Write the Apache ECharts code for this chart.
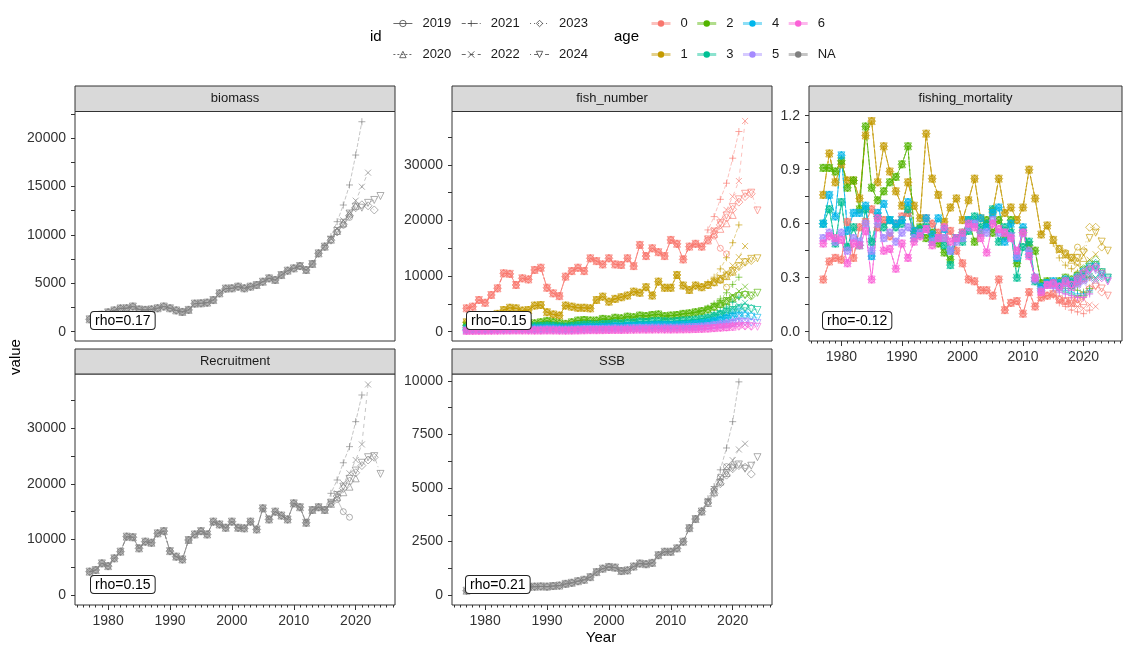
<!DOCTYPE html>
<html><head><meta charset="utf-8">
<script src="https://cdn.jsdelivr.net/npm/echarts@6/dist/echarts.min.js"></script>
<style>html,body{margin:0;padding:0;background:#fff}#c{width:1123px;height:650px}</style>
</head><body><div id="c"></div><script>
// ---------------- DATA ----------------
const firstYear = 1977;           // base arrays cover 1977-2014, tails start 2015
const ids = [2019, 2020, 2021, 2022, 2023, 2024];
const ageNames = ['0', '1', '2', '3', '4', '5', '6'];
const decadeTicks = [1980, 1990, 2000, 2010, 2020];
const yearTicks = [1975,1976,1977,1978,1979,1980,1981,1982,1983,1984,1985,1986,1987,1988,1989,1990,1991,1992,1993,1994,1995,1996,1997,1998,1999,2000,2001,2002,2003,2004,2005,2006,2007,2008,2009,2010,2011,2012,2013,2014,2015,2016,2017,2018,2019,2020,2021,2022,2023,2024,2025,2026];

const biomassLabels = [0, 5000, 10000, 15000, 20000];
const biomassTicks = [0, 2500, 5000, 7500, 10000, 12500, 15000, 17500, 20000, 22500];
const fishLabels = [0, 10000, 20000, 30000];
const fishTicks = [0, 5000, 10000, 15000, 20000, 25000, 30000, 35000];
const fLabels = [0, 0.3, 0.6, 0.9, 1.2];
const fTicks = [0, 0.15, 0.3, 0.45, 0.6, 0.75, 0.9, 1.05, 1.2];
const recLabels = [0, 10000, 20000, 30000];
const recTicks = [0, 5000, 10000, 15000, 20000, 25000, 30000, 35000];
const ssbLabels = [0, 2500, 5000, 7500, 10000];
const ssbTicks = [0, 1250, 2500, 3750, 5000, 6250, 7500, 8750, 10000];

const rhoTexts = ['rho=0.17', 'rho=0.15', 'rho=-0.12', 'rho=0.15', 'rho=0.21'];

// biomass
const biomassBase = [1280,1500,1750,2000,2200,2400,2420,2600,2300,2250, 2300,2420,2600,2420,2200,2040,2250,2900,2930,3000, 3270,3960,4450,4480,4650,4480,4650,4820,5160,5510, 5340,5850,6300,6540,6780,6370,6990,8090];
const biomassTail = [
  [8780,9470,10300,11000,11800],
  [8780,9500,10400,11200,12200,13000],
  [8900,9810,11360,13080,15150,18240,21680],
  [8800,9600,10600,11500,12220,13530,14970,16420],
  [8750,9450,10300,11100,12000,12800,13100,13000,12570],
  [8780,9500,10400,11250,12200,12900,12800,13300,13600,14010]
];
// recruitment (= fish number at age 0)
const recBase = [4200,4500,5700,5200,6600,7800,10500,10400,8400,9600, 9400,11100,11500,7900,6900,6400,9900,10900,11500,10900, 13200,12700,12100,13200,12100,12000,13200,11800,15600,13600, 15000,14300,13600,16500,15800,13000,15300,15800];
const recTail = [
  [15300,16400,17200,15000,14000],
  [15300,16400,17600,18500,19500,21000],
  [15300,18300,20700,23800,26700,31200,36000],
  [15300,16600,18300,20100,21900,24300,27100,37900],
  [15300,16500,17800,19200,20500,22000,23300,24300,24800],
  [15300,16600,18000,19500,20900,22400,23800,24800,25000,21800]
];
// SSB
const ssbBase = [200,250,280,300,320,330,350,360,370,380, 380,390,400,390,420,440,520,570,645,710, 835,1070,1230,1310,1280,1120,1150,1330,1470,1440, 1500,1860,2020,2020,2180,2490,3125,3550];
const ssbTail = [
  [3900,4350,4900,5500,6000],
  [3900,4300,4800,5300,5700,6100],
  [3950,4500,5070,5850,6870,8100,9960],
  [3900,4400,4950,5500,6000,6300,6800,7070],
  [3900,4300,4750,5200,5600,5900,6050,5970,5650],
  [3900,4300,4800,5250,5700,5950,6100,5900,6040,6440]
];
// fish numbers by age (age 0 = recruitment)
const fn1Base = [1700,2100,2600,2900,2700,3200,3900,4300,4200,3800, 3900,4700,4800,3500,3100,2900,4700,4500,4300,4300, 4200,5700,6300,5400,5900,6200,6500,7200,7000,8000, 6500,9000,7900,7900,10200,8300,7500,8300];
const fn1Tail = [
  [8000,8400,8800,9200,8000],
  [8000,8400,8900,9500,10000,10800],
  [8100,8800,9800,11300,13300,16000,19200],
  [8000,8500,9100,9800,10700,11900,13400,15400],
  [8000,8400,8900,9400,10000,10800,11700,12500,12800],
  [8000,8400,8900,9500,10100,10900,11800,12500,13100,13200]
];
const fn2Base = [1100,1200,1300,1300,1400,1500,1600,1700,1800,1700, 1600,1500,1700,1900,1700,1500,1400,1700,2000,2100, 2000,2000,2300,2200,2500,2400,2700,2600,2900,2800, 3000,3100,2800,2900,3000,3200,3300,3500];
const fn2Tail = [
  [3700,4000,4400,4800,4600],
  [3700,4000,4500,5000,5500,6000],
  [3800,4300,5000,5900,7000,8500,9800],
  [3700,4100,4600,5200,5800,6500,7300,8100],
  [3700,4000,4500,5000,5500,6000,6500,6700,6400],
  [3700,4000,4500,5000,5500,6000,6400,6600,6500,7000]
];
const fn3Base = [700,750,800,850,900,950,1000,1050,1100,1050, 1000,950,1000,1100,1050,950,900,1000,1150,1250, 1300,1250,1350,1400,1500,1450,1600,1650,1800,1750, 1850,1900,1850,1800,1900,2000,2050,2150];
const fn3Tail = [
  [2300,2500,2800,3100,3000],
  [2300,2500,2850,3200,3550,3900],
  [2350,2650,3100,3700,4400,5300,6200],
  [2300,2550,2900,3300,3700,4200,4700,5200],
  [2300,2500,2850,3200,3550,3900,4200,4400,4200],
  [2300,2500,2850,3200,3550,3900,4200,4300,4100,3900]
];
const fn4Base = [400,450,480,500,550,580,600,650,700,680, 650,620,640,700,680,620,580,620,700,780, 820,800,850,900,950,920,1000,1050,1100,1100, 1150,1200,1180,1150,1200,1250,1300,1400];
const fn4Tail = [
  [1500,1650,1850,2050,2000],
  [1500,1650,1900,2150,2400,2650],
  [1550,1750,2100,2500,2950,3500,4100],
  [1500,1700,1950,2250,2550,2850,3200,3500],
  [1500,1650,1900,2150,2400,2650,2850,2950,2800],
  [1500,1650,1900,2150,2400,2650,2850,2900,2700,2500]
];
const fn5Base = [250,280,300,320,340,360,380,400,420,410, 400,380,390,420,410,380,360,380,420,470, 500,490,520,550,580,560,610,640,680,670, 700,720,710,700,720,760,800,850];
const fn5Tail = [
  [920,1000,1120,1250,1200],
  [920,1000,1150,1300,1450,1600],
  [940,1060,1260,1500,1780,2100,2450],
  [920,1030,1180,1350,1530,1720,1920,2100],
  [920,1000,1150,1300,1450,1600,1720,1780,1700],
  [920,1000,1150,1300,1450,1600,1700,1750,1650,1550]
];
const fn6Base = [150,160,170,180,190,200,210,220,230,225, 220,210,215,230,225,210,200,210,230,260, 280,275,290,310,330,320,350,370,390,385, 400,410,405,400,410,430,450,480];
const fn6Tail = [
  [520,570,640,710,690],
  [520,570,650,740,820,900],
  [530,600,710,850,1000,1180,1380],
  [520,580,670,770,870,980,1090,1200],
  [520,570,650,740,820,900,970,1010,960],
  [520,570,650,740,820,900,960,990,940,880]
];
// fishing mortality by age
const f0Base = [.29,.39,.41,.40,.61,.41,.58,.61,.68,.58, .62,.53,.60,.64,.66,.56,.55,.63,.60,.55, .52,.56,.45,.38,.29,.28,.23,.23,.20,.29, .12,.16,.17,.10,.22,.14,.19,.20];
const f0Tail = [
  [.21,.18,.17,.16,.18],
  [.21,.18,.17,.16,.16,.17],
  [.20,.16,.14,.12,.11,.10,.12],
  [.21,.17,.16,.15,.14,.13,.15,.14],
  [.21,.18,.17,.17,.18,.20,.24,.26,.22],
  [.21,.18,.17,.17,.18,.20,.23,.25,.24,.20]
];
const f1Base = [.76,.99,.83,.93,.84,.84,.74,1.09,1.17,.83, 1.03,.89,.78,.70,.83,.70,.63,1.10,.85,.76, .61,.69,.74,.62,.73,.85,.63,.60,.67,.85, .66,.69,.62,.69,.90,.74,.54,.59];
const f1Tail = [
  [.51,.46,.44,.41,.47],
  [.51,.46,.43,.40,.39,.41],
  [.49,.41,.37,.35,.33,.31,.30],
  [.51,.45,.42,.40,.37,.35,.40,.43],
  [.51,.46,.43,.41,.41,.45,.58,.58,.47],
  [.51,.46,.43,.41,.41,.44,.52,.55,.50,.45]
];
const f2Base = [.91,.91,.89,.95,.80,.84,.68,1.14,.80,.73, .78,.83,.86,.93,1.03,.56,.58,.52,.55,.49, .44,.40,.52,.55,.62,.50,.55,.62,.55,.62, .53,.62,.38,.56,.48,.45,.27,.28];
const f2Tail = [
  [.27,.28,.30,.29,.31],
  [.27,.28,.29,.28,.30,.32],
  [.26,.26,.24,.24,.23,.22,.24],
  [.27,.28,.29,.27,.28,.30,.31,.30],
  [.27,.28,.30,.29,.32,.35,.38,.40,.33],
  [.27,.28,.30,.29,.31,.34,.36,.37,.33,.30]
];
const f3Base = [.60,.68,.49,.72,.47,.58,.48,.68,.50,.64, .58,.62,.58,.60,.68,.52,.57,.58,.50,.52, .48,.37,.52,.50,.56,.64,.58,.60,.68,.50, .58,.55,.30,.47,.50,.28,.24,.27];
const f3Tail = [
  [.27,.26,.28,.27,.29],
  [.27,.26,.27,.26,.28,.30],
  [.25,.23,.22,.21,.20,.20,.22],
  [.27,.26,.27,.25,.26,.28,.30,.29],
  [.27,.26,.28,.27,.30,.33,.36,.37,.31],
  [.27,.26,.28,.27,.29,.32,.34,.35,.32,.29]
];
const f4Base = [.60,.76,.64,.98,.56,.66,.66,.70,.42,.66, .71,.62,.60,.62,.72,.56,.54,.63,.54,.63, .57,.45,.52,.54,.62,.60,.63,.58,.66,.69, .50,.60,.41,.58,.43,.30,.25,.27];
const f4Tail = [
  [.28,.27,.29,.28,.30],
  [.28,.27,.28,.27,.29,.31],
  [.26,.24,.23,.22,.21,.21,.23],
  [.28,.27,.28,.26,.27,.29,.31,.30],
  [.28,.27,.29,.28,.31,.34,.37,.38,.32],
  [.28,.27,.29,.28,.30,.33,.35,.36,.33,.30]
];
const f5Base = [.52,.55,.50,.55,.45,.52,.50,.60,.45,.60, .52,.55,.50,.55,.58,.52,.55,.57,.50,.52, .52,.45,.50,.52,.58,.60,.55,.55,.62,.55, .55,.53,.42,.55,.45,.29,.23,.26];
const f5Tail = [
  [.26,.25,.27,.26,.28],
  [.26,.25,.26,.25,.27,.29],
  [.24,.22,.21,.20,.19,.19,.21],
  [.26,.25,.26,.24,.25,.27,.29,.28],
  [.26,.25,.27,.26,.29,.32,.35,.36,.30],
  [.26,.25,.27,.26,.28,.31,.33,.34,.31,.28]
];
const f6Base = [.49,.53,.52,.51,.38,.49,.48,.56,.29,.63, .45,.46,.35,.49,.41,.50,.53,.57,.48,.52, .58,.50,.52,.55,.60,.58,.52,.44,.60,.57, .55,.52,.45,.55,.42,.30,.22,.26];
const f6Tail = [
  [.27,.25,.28,.26,.29],
  [.27,.25,.27,.25,.28,.30],
  [.25,.22,.21,.20,.19,.19,.21],
  [.27,.25,.27,.24,.26,.28,.30,.29],
  [.27,.25,.28,.26,.30,.33,.35,.36,.30],
  [.27,.25,.28,.26,.29,.32,.34,.35,.32,.28]
];

// ---------------- STYLE / LAYOUT ----------------
const FONT = '"Liberation Sans", Arial, Helvetica, sans-serif';
const ageColors = ['#F8766D', '#C49A00', '#53B400', '#00C094', '#00B6EB', '#A58AFF', '#FB61D7'];
const naColor = '#7F7F7F';
const idSymbol = [
  {symbol: 'circle', size: 6, rot: 0},
  {symbol: 'triangle', size: 7, rot: 0},
  {symbol: 'path://M5,0L5,10M0,5L10,5', size: 7, rot: 0},
  {symbol: 'path://M0,0L10,10M10,0L0,10', size: 6, rot: 0},
  {symbol: 'diamond', size: 8, rot: 0},
  {symbol: 'triangle', size: 7, rot: 180}
];
const idDash = ['solid', [2, 2], [4, 2], [4, 4], [1, 3], [1, 3, 4, 3]];

const panels = [
  {title: 'biomass',            left: 75,  top: 111.5, width: 320, height: 229.5, stripTop: 86,  showX: false, min: -960,   max: 22736,  labels: biomassLabels, ticks: biomassTicks, fmt: v => String(v)},
  {title: 'fish_number',        left: 452, top: 111.5, width: 320, height: 229.5, stripTop: 86,  showX: false, min: -1673,  max: 39600,  labels: fishLabels,    ticks: fishTicks,    fmt: v => String(v)},
  {title: 'fishing_mortality',  left: 809, top: 111.5, width: 313, height: 229.5, stripTop: 86,  showX: true,  min: -0.0517, max: 1.2233, labels: fLabels,       ticks: fTicks,       fmt: v => v.toFixed(1)},
  {title: 'Recruitment',        left: 75,  top: 374,   width: 320, height: 231,   stripTop: 349, showX: true,  min: -1800,  max: 39780,  labels: recLabels,     ticks: recTicks,     fmt: v => String(v)},
  {title: 'SSB',                left: 452, top: 374,   width: 320, height: 231,   stripTop: 349, showX: true,  min: -467,   max: 10327,  labels: ssbLabels,     ticks: ssbTicks,     fmt: v => String(v)}
];
const rhoPos = [[91, 312], [467, 312], [823, 312], [91, 576], [466, 576]];

const grid = [], xAxis = [], yAxis = [], graphic = [];
panels.forEach((p, i) => {
  grid.push({left: p.left, top: p.top, width: p.width, height: p.height, show: true, borderColor: '#333', borderWidth: 1, backgroundColor: '#fff', containLabel: false});
  xAxis.push({type: 'value', gridIndex: i, position: 'bottom', min: 1974.65, max: 2026.35, axisLine: {show: false, onZero: false}, splitLine: {show: false},
    axisTick: {show: p.showX, length: 5, customValues: decadeTicks, lineStyle: {color: '#333'}},
    axisLabel: {show: p.showX, customValues: decadeTicks, margin: 9, fontSize: 14, color: '#333', fontFamily: FONT, formatter: v => String(v)}});
  xAxis.push({type: 'value', gridIndex: i, position: 'bottom', offset: 0, min: 1974.65, max: 2026.35, axisLine: {show: false, onZero: false}, splitLine: {show: false},
    axisTick: {show: p.showX, length: 2.5, customValues: yearTicks, lineStyle: {color: '#333'}},
    axisLabel: {show: false}});
  yAxis.push({type: 'value', gridIndex: i, position: 'left', min: p.min, max: p.max, axisLine: {show: false, onZero: false}, splitLine: {show: false},
    axisTick: {show: true, length: 4, customValues: p.ticks, lineStyle: {color: '#333'}},
    axisLabel: {customValues: p.labels, margin: 9, fontSize: 14, color: '#333', fontFamily: FONT, formatter: p.fmt}});
  // strip
  graphic.push({type: 'rect', shape: {x: p.left, y: p.stripTop, width: p.width, height: p.top - p.stripTop}, style: {fill: '#D9D9D9', stroke: '#333', lineWidth: 1}, silent: true, z: 10});
  graphic.push({type: 'text', x: p.left + p.width / 2, y: (p.stripTop + p.top) / 2, style: {text: p.title, font: '13px ' + FONT, fill: '#1A1A1A', align: 'center', verticalAlign: 'middle'}, silent: true, z: 11});
  // rho label
  graphic.push({type: 'text', x: rhoPos[i][0], y: rhoPos[i][1], style: {text: rhoTexts[i], font: '14px ' + FONT, fill: '#000', backgroundColor: '#fff', borderColor: '#222', borderWidth: 1, borderRadius: 3, padding: [2, 4, 1, 4], align: 'left', verticalAlign: 'top'}, silent: true, z: 20});
});
graphic.push({type: 'text', x: 16, y: 357, rotation: Math.PI / 2, style: {text: 'value', font: '15px ' + FONT, fill: '#000', align: 'center', verticalAlign: 'middle'}, silent: true});
graphic.push({type: 'text', x: 601, y: 638, style: {text: 'Year', font: '15px ' + FONT, fill: '#000', align: 'center', verticalAlign: 'middle'}, silent: true});
graphic.push({type: 'text', x: 370, y: 37, style: {text: 'id', font: '15px ' + FONT, fill: '#000', align: 'left', verticalAlign: 'middle'}, silent: true});
graphic.push({type: 'text', x: 614, y: 37, style: {text: 'age', font: '15px ' + FONT, fill: '#000', align: 'left', verticalAlign: 'middle'}, silent: true});

// ---------------- SERIES ----------------
const series = [];
function addPeels(pi, base, tails, color, tag) {
  ids.forEach((id, k) => {
    const vals = base.concat(tails[k]);
    const s = idSymbol[k];
    series.push({
      type: 'line', name: tag + '_' + id, xAxisIndex: pi * 2, yAxisIndex: pi,
      data: vals.map((v, j) => [firstYear + j, v]),
      symbol: s.symbol, symbolSize: s.size, symbolRotate: s.rot, symbolKeepAspect: true,
      showSymbol: true, showAllSymbol: true, animation: false, silent: true, legendHoverLink: false,
      lineStyle: {color: color, width: 0.9, type: idDash[k], opacity: 0.5},
      itemStyle: {color: 'rgba(0,0,0,0)', borderColor: color, borderWidth: 0.9, opacity: 0.7},
      emphasis: {disabled: true}
    });
  });
}
addPeels(0, biomassBase, biomassTail, naColor, 'biomass');
const fnBases = [recBase, fn1Base, fn2Base, fn3Base, fn4Base, fn5Base, fn6Base];
const fnTails = [recTail, fn1Tail, fn2Tail, fn3Tail, fn4Tail, fn5Tail, fn6Tail];
fnBases.forEach((b, a) => addPeels(1, b, fnTails[a], ageColors[a], 'fn' + a));
const fBases = [f0Base, f1Base, f2Base, f3Base, f4Base, f5Base, f6Base];
const fTails = [f0Tail, f1Tail, f2Tail, f3Tail, f4Tail, f5Tail, f6Tail];
fBases.forEach((b, a) => addPeels(2, b, fTails[a], ageColors[a], 'f' + a));
addPeels(3, recBase, recTail, naColor, 'rec');
addPeels(4, ssbBase, ssbTail, naColor, 'ssb');

// legend-only series
ids.forEach((id, k) => {
  const s = idSymbol[k];
  series.push({type: 'line', name: String(id), data: [], xAxisIndex: 0, yAxisIndex: 0,
    symbol: s.symbol, symbolRotate: s.rot, symbolKeepAspect: true,
    lineStyle: {color: '#444', width: 0.8, type: idDash[k]},
    itemStyle: {color: 'rgba(0,0,0,0)', borderColor: '#444', borderWidth: 0.8}});
});
ageNames.concat(['NA']).forEach((a, k) => {
  const c = k < 7 ? ageColors[k] : naColor;
  series.push({type: 'line', name: a, data: [], xAxisIndex: 0, yAxisIndex: 0,
    symbol: 'circle', lineStyle: {color: c, width: 3, opacity: 0.45}, itemStyle: {color: c}});
});

const legendBase = {orient: 'horizontal', padding: 0, itemWidth: 19, itemHeight: 8, itemGap: 10, selectedMode: false,
  textStyle: {fontSize: 13, color: '#1A1A1A', fontFamily: FONT, padding: [0, 0, 0, 5]}};
const idLegendLine = {width: 0.8, color: '#444'};
const idLegendItem = {borderWidth: 0.8, borderColor: '#444', color: 'rgba(0,0,0,0)'};
const legend = [
  Object.assign({}, legendBase, {data: ['2019', '2021', '2023'], left: 393, top: 17, lineStyle: idLegendLine, itemStyle: idLegendItem}),
  Object.assign({}, legendBase, {data: ['2020', '2022', '2024'], left: 393, top: 48, lineStyle: idLegendLine, itemStyle: idLegendItem}),
  Object.assign({}, legendBase, {data: ['0', '2', '4', '6'], left: 650, top: 17, itemGap: 8, lineStyle: {width: 3}}),
  Object.assign({}, legendBase, {data: ['1', '3', '5', 'NA'], left: 650, top: 48, itemGap: 8, lineStyle: {width: 3}})
];

const chart = echarts.init(document.getElementById('c'), null, {renderer: 'canvas'});
chart.setOption({
  animation: false,
  backgroundColor: '#fff',
  textStyle: {fontFamily: FONT},
  grid, xAxis, yAxis, legend, graphic, series
});
</script></body></html>
